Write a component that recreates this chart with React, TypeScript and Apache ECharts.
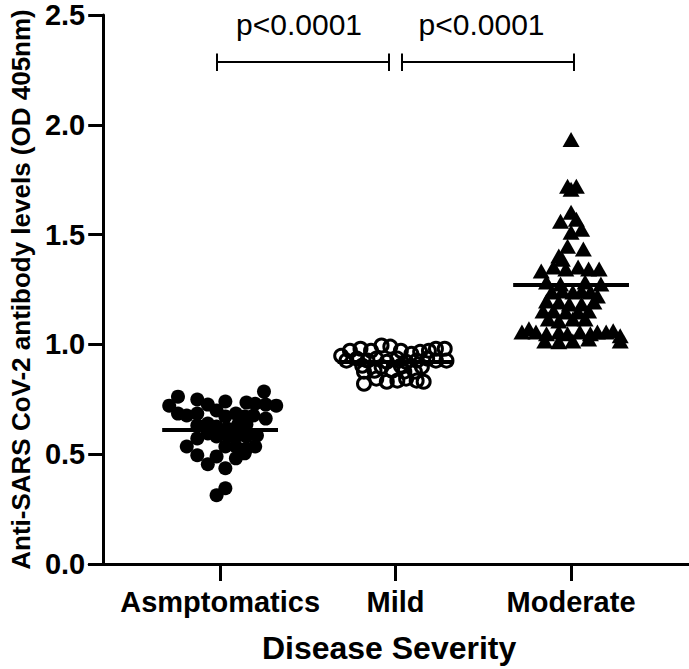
import React, { useEffect, useRef } from "react";
import * as echarts from "echarts";

const categories = ["Asmptomatics", "Mild", "Moderate"];
const yTicks = [0, 0.5, 1.0, 1.5, 2.0, 2.5];
const groupMeans = [0.61, 0.92, 1.27];
const pValueLabels = ["p<0.0001", "p<0.0001"];

// [horizontal jitter (category units), OD value]
const asymptomaticPoints: [number, number][] = [
  [0.25, 0.785], [-0.24, 0.762], [-0.13, 0.749], [0.03, 0.74], [-0.29, 0.721],
  [-0.07, 0.726], [0.15, 0.735], [0.2, 0.73], [0.26, 0.726], [0.32, 0.721],
  [-0.02, 0.699], [-0.24, 0.685], [-0.19, 0.676], [-0.13, 0.685], [0.09, 0.685],
  [0.14, 0.672], [0.19, 0.676], [0.26, 0.662], [0.03, 0.672], [-0.13, 0.631],
  [-0.07, 0.64], [-0.02, 0.626], [0.04, 0.617], [0.1, 0.631], [0.15, 0.635],
  [-0.07, 0.594], [0.07, 0.585], [-0.13, 0.572], [-0.02, 0.581], [0.04, 0.585],
  [0.1, 0.585], [0.15, 0.581], [0.21, 0.585], [-0.19, 0.535], [0.03, 0.535],
  [0.09, 0.535], [0.15, 0.526], [0.2, 0.535], [-0.13, 0.495], [-0.02, 0.49],
  [0.14, 0.504], [0.09, 0.481], [-0.07, 0.454], [0.03, 0.436], [0.03, 0.345],
  [-0.02, 0.313],
];

const mildPoints: [number, number][] = [
  [-0.31, 0.948], [-0.26, 0.971], [-0.2, 0.98], [-0.14, 0.971], [-0.08, 0.995],
  [-0.03, 0.99], [0.03, 0.971], [0.09, 0.957], [0.14, 0.966], [0.19, 0.971],
  [0.23, 0.98], [0.28, 0.98], [-0.28, 0.926], [-0.22, 0.935], [-0.16, 0.926],
  [-0.11, 0.935], [-0.05, 0.921], [0.01, 0.935], [0.06, 0.921], [0.12, 0.926],
  [0.18, 0.935], [0.23, 0.926], [0.29, 0.926], [-0.19, 0.903], [-0.08, 0.898],
  [0.03, 0.903], [0.15, 0.898], [-0.18, 0.876], [-0.12, 0.88], [-0.02, 0.88],
  [0.05, 0.876], [0.11, 0.876], [-0.18, 0.821], [-0.11, 0.844], [-0.05, 0.83],
  [0.01, 0.835], [0.06, 0.844], [0.12, 0.835], [0.16, 0.83],
];

const moderatePoints: [number, number][] = [
  [0.0, 1.933], [-0.02, 1.72], [0.03, 1.72], [0.0, 1.706], [0.0, 1.602],
  [-0.06, 1.561], [0.03, 1.57], [0.06, 1.524], [0.0, 1.511], [-0.02, 1.447],
  [0.07, 1.434], [-0.07, 1.402], [-0.05, 1.388], [-0.17, 1.334], [-0.1, 1.352],
  [-0.03, 1.343], [0.04, 1.352], [0.1, 1.343], [0.16, 1.343], [-0.14, 1.284],
  [-0.06, 1.275], [0.08, 1.284], [0.17, 1.275], [-0.11, 1.239], [-0.05, 1.243],
  [0.01, 1.239], [0.06, 1.243], [0.11, 1.239], [0.15, 1.22], [-0.14, 1.198],
  [-0.07, 1.193], [-0.01, 1.184], [0.06, 1.184], [0.13, 1.193], [-0.16, 1.152],
  [-0.1, 1.152], [-0.03, 1.148], [0.04, 1.148], [0.1, 1.152], [-0.13, 1.116],
  [-0.07, 1.107], [0.01, 1.116], [0.08, 1.116], [-0.28, 1.057], [-0.24, 1.071],
  [-0.2, 1.057], [-0.14, 1.048], [-0.07, 1.057], [-0.02, 1.048], [0.05, 1.057],
  [0.11, 1.048], [0.15, 1.057], [0.2, 1.057], [0.24, 1.062], [0.28, 1.039],
  [-0.15, 1.016], [-0.07, 1.012], [0.01, 1.016], [0.1, 1.025], [0.28, 1.016],
];

// significance brackets: [from category position, to category position]
const bracketSpans: [number, number][] = [
  [-0.017, 0.96],
  [1.034, 2.017],
];
const bracketLevel = 2.285;
const bracketCap = 0.04;
const pLabelLevel = 2.455;
const pLabelPositions = [0.45, 1.49];

const FONT = "'Liberation Sans', Arial, Helvetica, sans-serif";

export default function App() {
  const ref = useRef<HTMLDivElement>(null);
  useEffect(() => {
    if (!ref.current) return;
    const chart = echarts.init(ref.current, undefined, { renderer: "svg" });

    const shift = (pts: [number, number][], c: number) =>
      pts.map(([dx, v]) => [c + dx, v]);

    const meanLines = groupMeans.map((m, i) => ({
      coords: [
        [i - 0.33, m],
        [i + 0.33, m],
      ],
    }));

    const bracketLines: any[] = [];
    bracketSpans.forEach(([a, b]) => {
      bracketLines.push({ coords: [[a, bracketLevel], [b, bracketLevel]] });
      bracketLines.push({
        coords: [[a, bracketLevel - bracketCap], [a, bracketLevel + bracketCap]],
      });
      bracketLines.push({
        coords: [[b, bracketLevel - bracketCap], [b, bracketLevel + bracketCap]],
      });
    });

    chart.setOption({
      animation: false,
      backgroundColor: "#ffffff",
      grid: { left: 84, right: 0, top: 15, bottom: 103, containLabel: false },
      xAxis: {
        type: "value",
        min: -0.7458,
        max: 2.672,
        name: "Disease Severity",
        nameLocation: "middle",
        nameGap: 68,
        nameTextStyle: {
          fontFamily: FONT,
          fontWeight: "bold",
          fontSize: 32,
          color: "#000",
        },
        axisLine: { show: true, onZero: false, lineStyle: { color: "#000", width: 3 } },
        axisTick: {
          show: true,
          customValues: [0, 1, 2],
          length: 17,
          lineStyle: { color: "#000", width: 3 },
        },
        axisLabel: {
          customValues: [0, 1, 2],
          formatter: (v: number) => categories[Math.round(v)] ?? "",
          fontFamily: FONT,
          fontWeight: "bold",
          fontSize: 29,
          color: "#000",
          margin: 23,
        },
        splitLine: { show: false },
      },
      yAxis: {
        type: "value",
        min: 0,
        max: 2.5,
        interval: 0.5,
        offset: -14,
        name: "Anti-SARS CoV-2 antibody levels (OD 405nm)",
        nameLocation: "middle",
        nameGap: 57,
        nameTextStyle: {
          fontFamily: FONT,
          fontWeight: "bold",
          fontSize: 26,
          color: "#000",
        },
        axisLine: { show: true, onZero: false, lineStyle: { color: "#000", width: 3 } },
        axisTick: { show: true, length: 15, lineStyle: { color: "#000", width: 3 } },
        axisLabel: {
          formatter: (v: number) => v.toFixed(1),
          fontFamily: FONT,
          fontWeight: "bold",
          fontSize: 29,
          color: "#000",
          margin: 18,
          customValues: yTicks,
        },
        splitLine: { show: false },
      },
      series: [
        {
          type: "scatter",
          name: categories[0],
          data: shift(asymptomaticPoints, 0),
          symbol: "circle",
          symbolSize: 14,
          itemStyle: { color: "#000", opacity: 1 },
        },
        {
          type: "scatter",
          name: categories[1],
          data: shift(mildPoints, 1),
          symbol: "circle",
          symbolSize: 13,
          itemStyle: {
            color: "rgba(255,255,255,0)",
            borderColor: "#000",
            borderWidth: 3,
            opacity: 1,
          },
        },
        {
          type: "scatter",
          name: categories[2],
          data: shift(moderatePoints, 2),
          symbol: "triangle",
          symbolSize: [17, 15],
          itemStyle: { color: "#000", opacity: 1 },
        },
        {
          type: "lines",
          coordinateSystem: "cartesian2d",
          data: meanLines,
          lineStyle: { color: "#000", width: 4, opacity: 1 },
          z: 5,
        },
        {
          type: "lines",
          coordinateSystem: "cartesian2d",
          data: bracketLines,
          lineStyle: { color: "#000", width: 2, opacity: 1 },
          z: 5,
        },
        {
          type: "scatter",
          data: pLabelPositions.map((x) => [x, pLabelLevel]),
          symbolSize: 1,
          itemStyle: { color: "rgba(0,0,0,0)" },
          label: {
            show: true,
            position: "inside",
            formatter: (p: any) => pValueLabels[p.dataIndex],
            fontFamily: FONT,
            fontSize: 30,
            color: "#000",
            opacity: 1,
          },
          silent: true,
        },
      ],
    });
    return () => chart.dispose();
  }, []);
  return (
    <div
      ref={ref}
      style={{ position: "fixed", left: 0, top: 0, width: 689, height: 669, background: "#fff" }}
    />
  );
}
